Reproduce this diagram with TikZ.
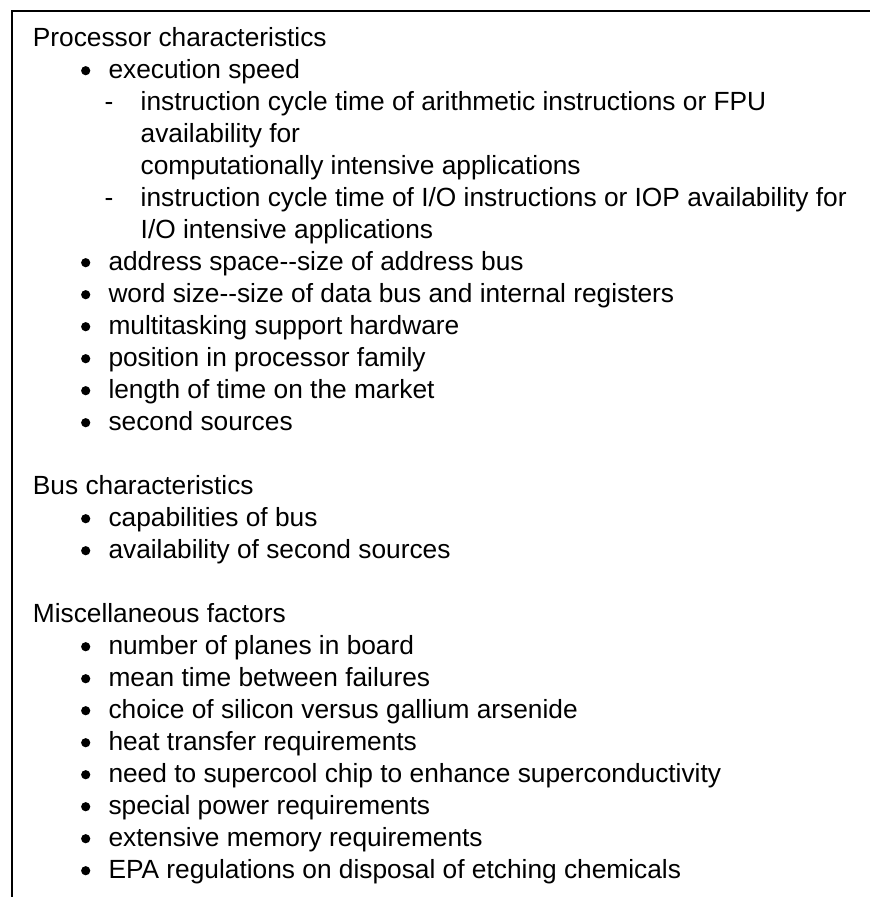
\documentclass[tikz,border=0pt]{standalone}
\usepackage{fontspec}
\setmainfont{Liberation Sans}
\newcommand{\dd}{\mbox{-}\mbox{-}}
\begin{document}
\begin{tikzpicture}[x=1pt,y=-1pt,
  txt/.style={inner sep=0pt,anchor=base west,font=\fontsize{26.3}{32}\selectfont},
  head/.style={txt},
  item/.style={txt},
  sub/.style={txt},
  dot/.style={fill=black,draw=none}]
\useasboundingbox (0,0) rectangle (870,897);
% frame: top rule and left rule only
\coordinate (tl) at (11.5,11);
\coordinate (tr) at (870,11);
\coordinate (bl) at (11.5,897);
\draw[line width=2pt] (tr) -- (tl) -- (bl);
\def\bl{46.7}\def\pitch{32}
% headings, x = 32.7; bullet items, x = 108.3; dashed sub-items, x = 140.5
\node[head] (h1) at (32.7,\bl+0*\pitch) {Processor characteristics};
\node[item] (p1) at (108.3,\bl+1*\pitch) {execution speed};
\node[txt] (d1) at (104.5,\bl+2*\pitch) {-};
\node[sub] (s1a) at (140.5,\bl+2*\pitch) {instruction cycle time of arithmetic instructions or FPU};
\node[sub] (s1b) at (140.5,\bl+3*\pitch) {availability for};
\node[sub] (s1c) at (140.5,\bl+4*\pitch) {computationally intensive applications};
\node[txt] (d2) at (104.5,\bl+5*\pitch) {-};
\node[sub] (s2a) at (140.5,\bl+5*\pitch) {instruction cycle time of I/O instructions or IOP availability for};
\node[sub] (s2b) at (140.5,\bl+6*\pitch) {I/O intensive applications};
\node[item] (p2) at (108.3,\bl+7*\pitch) {address space\dd size of address bus};
\node[item] (p3) at (108.3,\bl+8*\pitch) {word size\dd size of data bus and internal registers};
\node[item] (p4) at (108.3,\bl+9*\pitch) {multitasking support hardware};
\node[item] (p5) at (108.3,\bl+10*\pitch) {position in processor family};
\node[item] (p6) at (108.3,\bl+11*\pitch) {length of time on the market};
\node[item] (p7) at (108.3,\bl+12*\pitch) {second sources};
\node[head] (h2) at (32.7,\bl+14*\pitch) {Bus characteristics};
\node[item] (b1) at (108.3,\bl+15*\pitch) {capabilities of bus};
\node[item] (b2) at (108.3,\bl+16*\pitch) {availability of second sources};
\node[head] (h3) at (32.7,\bl+18*\pitch) {Miscellaneous factors};
\node[item] (m1) at (108.3,\bl+19*\pitch) {number of planes in board};
\node[item] (m2) at (108.3,\bl+20*\pitch) {mean time between failures};
\node[item] (m3) at (108.3,\bl+21*\pitch) {choice of silicon versus gallium arsenide};
\node[item] (m4) at (108.3,\bl+22*\pitch) {heat transfer requirements};
\node[item] (m5) at (108.3,\bl+23*\pitch) {need to supercool chip to enhance superconductivity};
\node[item] (m6) at (108.3,\bl+24*\pitch) {special power requirements};
\node[item] (m7) at (108.3,\bl+25*\pitch) {extensive memory requirements};
\node[item] (m8) at (108.3,\bl+26*\pitch) {EPA regulations on disposal of etching chemicals};
% bullets
\foreach \k in {1,7,8,9,10,11,12,15,16,19,20,21,22,23,24,25,26}
  \fill[dot] (85.7,\bl+\k*\pitch-8) circle (4.6);
\end{tikzpicture}
\end{document}
